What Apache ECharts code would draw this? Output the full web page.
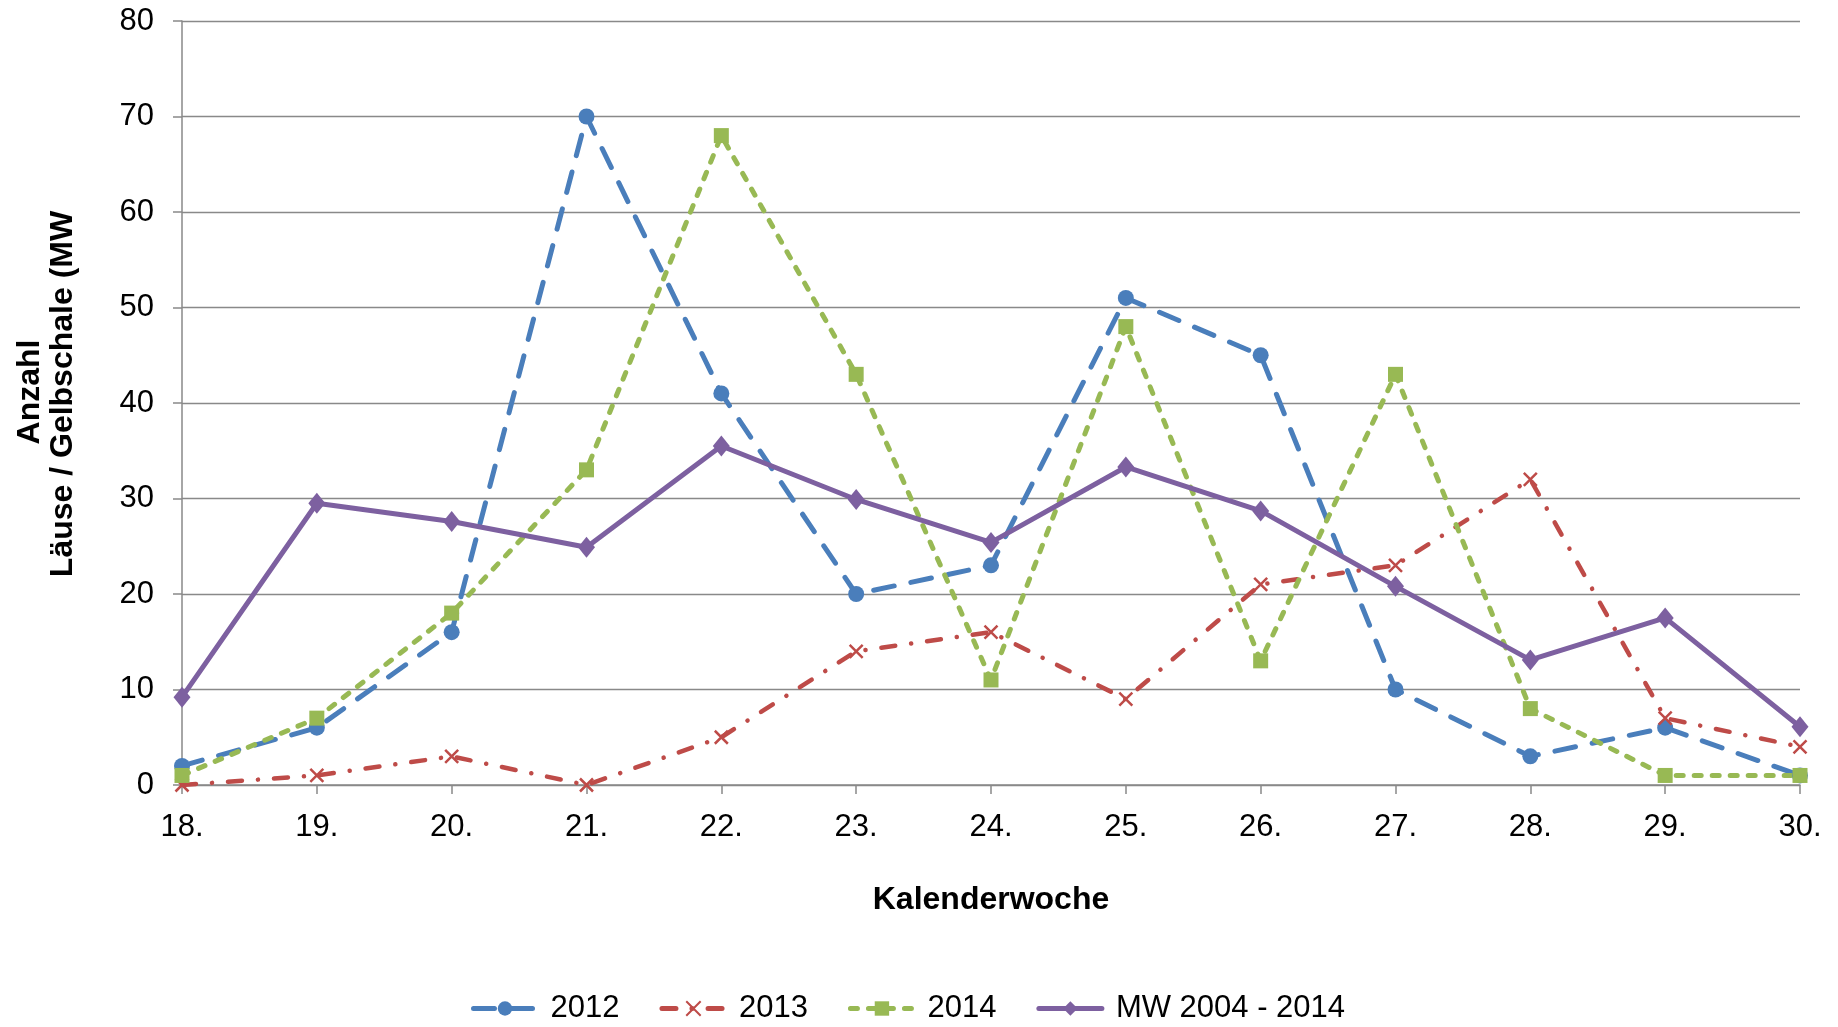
<!DOCTYPE html>
<html>
<head>
<meta charset="utf-8">
<script src="https://cdn.jsdelivr.net/npm/echarts@6/dist/echarts.min.js"></script>
<style>
  html, body { margin: 0; padding: 0; background: #fff; }
  #lineChart { width: 1838px; height: 1027px; }
</style>
</head>
<body>
<div id="lineChart"></div>
<script>
// Kalenderwochen
const weeks = ['18.', '19.', '20.', '21.', '22.', '23.', '24.', '25.', '26.', '27.', '28.', '29.', '30.'];
const y2012 = [2, 6, 16, 70, 41, 20, 23, 51, 45, 10, 3, 6, 1];
const y2013 = [0, 1, 3, 0, 5, 14, 16, 9, 21, 23, 32, 7, 4];
const y2014 = [1, 7, 18, 33, 68, 43, 11, 48, 13, 43, 8, 1, 1];
const yMW = [9.2, 29.5, 27.6, 24.9, 35.5, 29.9, 25.4, 33.3, 28.7, 20.8, 13.1, 17.5, 6.1];

const FONT = 'Liberation Sans, Arial, sans-serif';
const cross = 'path://M0,0L10,10M10,0L0,10';

const lineChart = echarts.init(document.getElementById('lineChart'));

function mkSeries(name, data, color, dash, width, symbol, size, extra) {
  return Object.assign({
    name: name,
    type: 'line',
    data: data,
    symbol: symbol,
    symbolSize: size,
    showAllSymbol: true,
    lineStyle: { color: color, width: width, type: dash, cap: 'round', join: 'round' },
    itemStyle: { color: color },
    emphasis: { disabled: true }
  }, extra || {});
}

const option = {
  animation: false,
  backgroundColor: '#fff',
  grid: { left: 182, right: 38, top: 21, bottom: 242 },
  legend: {
    left: 466,
    top: 988,
    itemWidth: 63,
    itemHeight: 18,
    itemGap: 40,
    lineStyle: { width: 5 },
    textStyle: { fontFamily: FONT, fontSize: 31, color: '#000', padding: [0, 0, 0, 9] },
    data: ['2012', '2013', '2014', 'MW 2004 - 2014']
  },
  graphic: [
    {
      type: 'text', x: 30, y: 392, rotation: Math.PI / 2,
      style: { text: 'Anzahl', font: 'bold 32px ' + FONT, fill: '#000', align: 'center', verticalAlign: 'middle' }
    },
    {
      type: 'text', x: 63, y: 394, rotation: Math.PI / 2,
      style: { text: 'Läuse / Gelbschale (MW', font: 'bold 32px ' + FONT, fill: '#000', align: 'center', verticalAlign: 'middle' }
    }
  ],
  xAxis: {
    type: 'category',
    data: weeks,
    boundaryGap: false,
    name: 'Kalenderwoche',
    nameLocation: 'middle',
    nameGap: 99,
    nameTextStyle: { fontFamily: FONT, fontSize: 32, fontWeight: 'bold', color: '#000' },
    axisLine: { lineStyle: { color: '#898989', width: 1.5 } },
    axisTick: { show: true, length: 9, lineStyle: { color: '#898989', width: 1.5 } },
    axisLabel: { fontFamily: FONT, fontSize: 31, color: '#000', margin: 27 },
    splitLine: { show: false }
  },
  yAxis: {
    type: 'value',
    min: 0,
    max: 80,
    interval: 10,
    axisLine: { show: true, lineStyle: { color: '#898989', width: 1.5 } },
    axisTick: { show: true, length: 9, lineStyle: { color: '#898989', width: 1.5 } },
    axisLabel: { fontFamily: FONT, fontSize: 31, color: '#000', margin: 28 },
    splitLine: { show: true, lineStyle: { color: '#898989', width: 1.3 } }
  },
  series: [
    mkSeries('2012', y2012, '#4A7EBB', [21, 17], 5, 'circle', 16),
    mkSeries('2013', y2013, '#BE4B48', [14, 16, 0.1, 16], 4.5, cross, 13, {
      itemStyle: { color: '#BE4B48', borderColor: '#BE4B48', borderWidth: 2.5 }
    }),
    mkSeries('2014', y2014, '#98B954', [7, 11], 5, 'rect', 15),
    mkSeries('MW 2004 - 2014', yMW, '#7D60A0', 'solid', 5, 'diamond', [17, 21])
  ]
};
lineChart.setOption(option);
</script>
</body>
</html>
